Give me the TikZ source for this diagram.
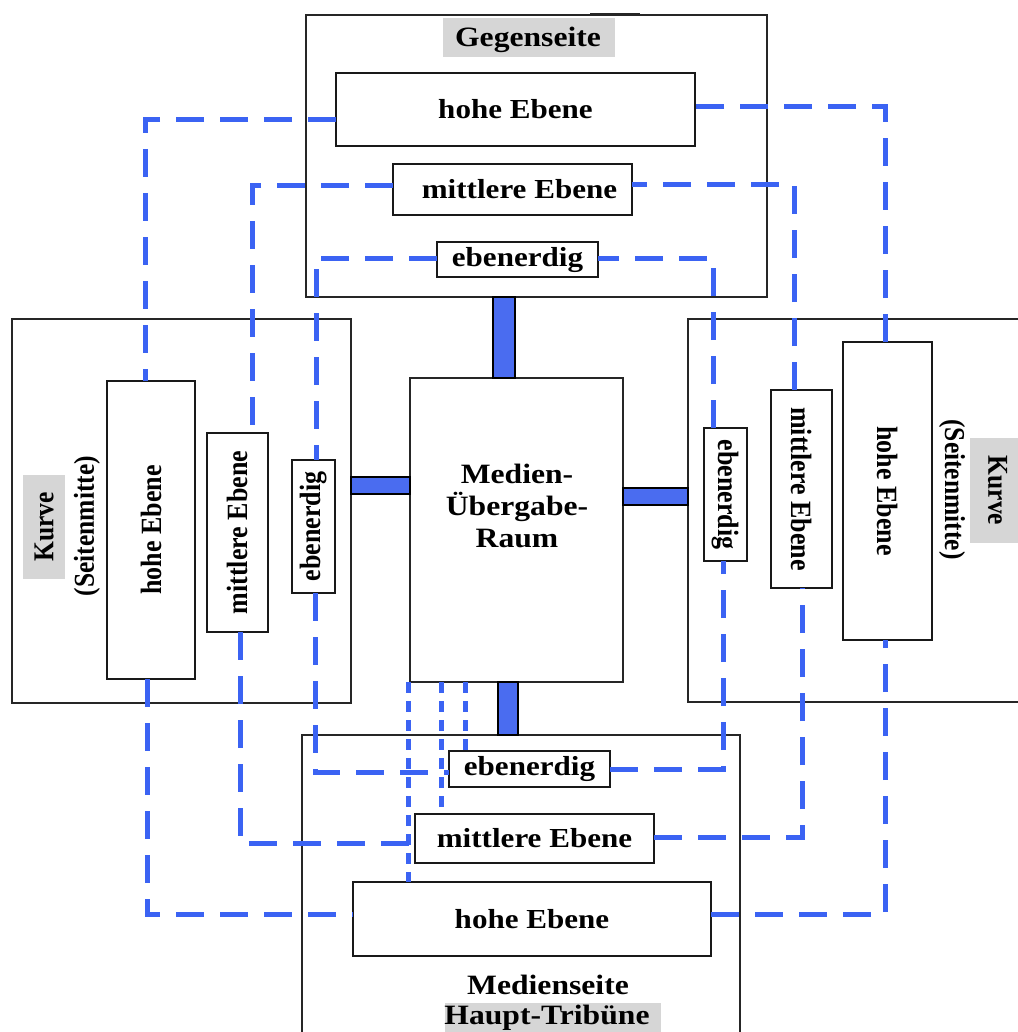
\documentclass[tikz,border=0pt]{standalone}
\usepackage{fontspec}
\setmainfont{Liberation Serif}
\usetikzlibrary{calc}
\definecolor{routeblue}{RGB}{59,99,243}
\definecolor{barblue}{RGB}{74,108,240}
\definecolor{taggray}{RGB}{214,214,214}
% slightly widened lettering
\newcommand{\hstr}[1]{\scalebox{1.13}[1]{#1}}
\newcommand{\vstr}[1]{\scalebox{1}[1.13]{#1}}
\newcommand{\upword}[1]{\rotatebox{90}{\vstr{#1}}}
\newcommand{\downword}[1]{\rotatebox{-90}{\vstr{#1}}}

\begin{document}
\begin{tikzpicture}[x=1pt,y=-1pt,
  area/.style={draw=black!85,line width=1.4pt,inner sep=0pt,outer sep=0pt},
  level/.style={draw=black!90,line width=1.7pt,fill=white,inner sep=0pt,outer sep=0pt,
                font=\bfseries\fontsize{27.5}{32}\selectfont},
  vlevel/.style={level,font=\bfseries\fontsize{26}{30}\selectfont},
  tag/.style={fill=taggray,inner sep=0pt,outer sep=0pt},
  title/.style={font=\bfseries\fontsize{28}{32}\selectfont,inner sep=0pt},
  vtitle/.style={font=\bfseries\fontsize{25.5}{30}\selectfont,inner sep=0pt},
  bridge/.style={draw=black,line width=1.8pt,fill=barblue},
  route/.style={draw=routeblue,line width=5pt,dash pattern=on 28pt off 16pt},
  feed/.style={draw=routeblue,line width=5pt,dash pattern=on 11pt off 8pt}]

\useasboundingbox (0,0) rectangle (1017,1032);

% stands
\node[area,minimum width=461,minimum height=282] (G) at (536.5,156) {};
\node[area,minimum width=339,minimum height=384] (L) at (181.5,511) {};
\node[area,minimum width=337,minimum height=383] (R) at (856.5,510.5) {};
\node[area,minimum width=438,minimum height=310] (B) at (521,890) {};
\node[area,minimum width=213,minimum height=304] (C) at (516.5,530) {};
\draw[line width=3pt,black!85] (590,0 |- G.north) -- (640,0 |- G.north);

% stand titles
\node[tag,minimum width=172,minimum height=39] (gtag) at (529,37.5) {};
\node[title,anchor=base] (gtitle) at (528,47) {\hstr{Gegenseite}};
\node[tag,vtitle,minimum width=42,minimum height=104] (lkurve) at (44,527) {\upword{Kurve}};
\node[vtitle] (lside) at (87,526) {\upword{(Seitenmitte)}};
\node[tag,vtitle,minimum width=55,minimum height=105] (rkurve) at (997.5,490.5) {\downword{Kurve}};
\node[vtitle] (rside) at (952,489.5) {\downword{(Seitenmitte)}};
\node[tag,minimum width=216,minimum height=36] (htag) at (553,1021) {};
\node[title,anchor=base] (btitle1) at (548,994) {\hstr{Medienseite}};
\node[title,anchor=base] (btitle2) at (547,1024) {\hstr{Haupt-Tribüne}};
\node[title,align=center] (ctitle) at (517,506) {\hstr{Medien-}\\\hstr{Übergabe-}\\\hstr{Raum}};

% links between the media room and the stands
\draw[bridge] (493,0 |- G.south) rectangle (515,0 |- C.north);
\draw[bridge] (L.east |- 0,477) rectangle (C.west |- 0,494);
\draw[bridge] (C.east |- 0,488) rectangle (R.west |- 0,505);
\draw[bridge] (498,0 |- C.south) rectangle (518,0 |- B.north);

% levels of each stand
\node[level,minimum width=359,minimum height=73] (Gh) at (515.5,109.5) {\hstr{hohe Ebene}};
\node[level,minimum width=239,minimum height=51] (Gm) at (512.5,189.5) {\hspace{14pt}\hstr{mittlere Ebene}};
\node[level,minimum width=161,minimum height=35] (Ge) at (517.5,259.5) {\hstr{ebenerdig}};

\node[vlevel,minimum width=88,minimum height=298] (Lh) at (151,530) {\upword{hohe Ebene}};
\node[vlevel,minimum width=61,minimum height=199] (Lm) at (237.5,532.5) {\upword{mittlere Ebene}};
\node[vlevel,minimum width=43,minimum height=133] (Le) at (313.5,526.5) {\upword{ebenerdig}};

\node[vlevel,minimum width=43,minimum height=133] (Re) at (725.5,494.5) {\downword{ebenerdig}};
\node[vlevel,minimum width=61,minimum height=198] (Rm) at (801.5,489) {\downword{mittlere Ebene}};
\node[vlevel,minimum width=89,minimum height=298] (Rh) at (887.5,491) {\downword{hohe Ebene}};

\node[level,minimum width=161,minimum height=36] (Be) at (529.5,769) {\hstr{ebenerdig}};
\node[level,minimum width=239,minimum height=49] (Bm) at (534.5,838.5) {\hstr{mittlere Ebene}};
\node[level,minimum width=358,minimum height=74] (Bh) at (532,919) {\hstr{hohe Ebene}\hspace{28pt}};

% ring of the high level
\draw[route] (Gh.west |- 0,120) -| (145,0 |- Lh.north);
\draw[route] (147,0 |- Lh.south) |- (Bh.west |- 0,914);
\draw[route] (Bh.east |- 0,914) -| (885,0 |- Rh.south);
\draw[route] (885,0 |- Rh.north) |- (Gh.east |- 0,107);

% ring of the middle level
\draw[route] (Gm.west |- 0,186) -| (252,0 |- Lm.north);
\draw[route] (240,0 |- Lm.south) |- (Bm.west |- 0,843);
\draw[route] (Bm.east |- 0,837) -| (802,0 |- Rm.south);
\draw[route] (794,0 |- Rm.north) |- (Gm.east |- 0,185);

% ring of the ground level
\draw[route] (Ge.west |- 0,258) -| (316,0 |- Le.north);
\draw[route] (315,0 |- Le.south) |- (Be.west |- 0,772);
\draw[route] (Be.east |- 0,769) -| (723,0 |- Re.south);
\draw[route] (713,0 |- Re.north) |- (Ge.east |- 0,258);

% feeds from the media room to the main stand
\draw[feed] (408,0 |- C.south) -- (408,0 |- Bh.north);
\draw[feed] (441,0 |- C.south) -- (441,0 |- Bm.north);
\draw[feed] (465,0 |- C.south) -- (465,0 |- Be.north);
\end{tikzpicture}
\end{document}
